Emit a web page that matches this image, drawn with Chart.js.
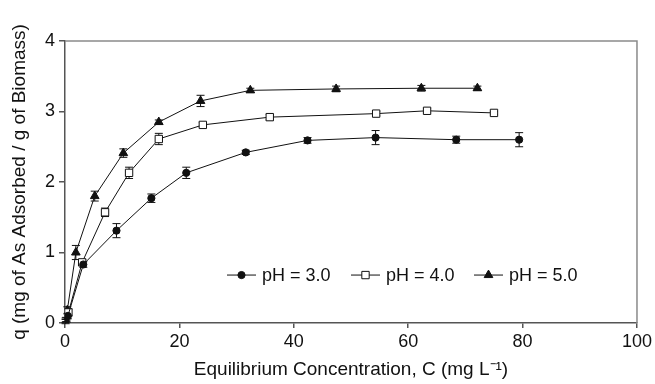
<!DOCTYPE html>
<html>
<head>
<meta charset="utf-8">
<script src="https://cdn.jsdelivr.net/npm/chart.js@4.4.1/dist/chart.umd.min.js"></script>
<style>
    html, body { margin: 0; padding: 0; background: #ffffff; }
    #wrap { width: 655px; height: 384px; position: relative; }
</style>
</head>
<body>
<div id="wrap"><canvas id="myChart"></canvas></div>
<script>
// Data: concentration C (mg/L), uptake q (mg/g), error bar (±)
const ph3C = [0.1, 0.5, 3.2, 9.0, 15.1, 21.2, 31.6, 42.4, 54.3, 68.4, 79.4];
const ph3Q = [0.02, 0.10, 0.83, 1.31, 1.77, 2.13, 2.42, 2.59, 2.63, 2.60, 2.60];
const ph3Err = [0.03, 0.04, 0.04, 0.10, 0.06, 0.08, 0.03, 0.04, 0.10, 0.05, 0.10];

const ph4C = [0.2, 0.6, 3.0, 7.0, 11.2, 16.4, 24.1, 35.8, 54.4, 63.3, 75.0];
const ph4Q = [0.05, 0.15, 0.86, 1.57, 2.13, 2.61, 2.81, 2.92, 2.97, 3.01, 2.98];
const ph4Err = [0.03, 0.05, 0.04, 0.06, 0.08, 0.08, 0.03, 0.04, 0.03, 0.03, 0.02];

const ph5C = [0.1, 0.4, 1.9, 5.2, 10.2, 16.4, 23.7, 32.4, 47.4, 62.3, 72.1];
const ph5Q = [0.04, 0.18, 1.00, 1.80, 2.41, 2.85, 3.15, 3.30, 3.32, 3.33, 3.33];
const ph5Err = [0.03, 0.05, 0.10, 0.07, 0.06, 0.03, 0.08, 0.03, 0.04, 0.04, 0.03];

const seriesLabels = ['pH = 3.0', 'pH = 4.0', 'pH = 5.0'];
const xTicks = [0, 20, 40, 60, 80, 100];
const yTicks = [0, 1, 2, 3, 4];

const FONT = 'Liberation Sans, Arial, sans-serif';
const INK = '#111111';

function toPoints(xs, ys) {
    return xs.map((x, i) => ({ x: x, y: ys[i] }));
}

// marker styles per series
const markers = [
    { style: 'circle', radius: 3.6, fill: INK },
    { style: 'rect', radius: 5.2, fill: '#ffffff' },
    { style: 'triangle', radius: 5, fill: INK }
];

function drawMarker(ctx, m, x, y) {
    ctx.save();
    ctx.fillStyle = m.fill;
    ctx.strokeStyle = INK;
    ctx.lineWidth = 1;
    ctx.beginPath();
    if (m.style === 'circle') {
        ctx.arc(x, y, m.radius, 0, Math.PI * 2);
    } else if (m.style === 'rect') {
        const s = m.radius * Math.SQRT1_2;
        ctx.rect(x - s, y - s, s * 2, s * 2);
    } else {
        const r = m.radius;
        ctx.moveTo(x, y - r);
        ctx.lineTo(x + r * 0.866, y + r * 0.5);
        ctx.lineTo(x - r * 0.866, y + r * 0.5);
        ctx.closePath();
    }
    ctx.fill();
    ctx.stroke();
    ctx.restore();
}

// gray frame on top and right of the plot area
const framePlugin = {
    id: 'frame',
    beforeDatasetsDraw(chart) {
        const a = chart.chartArea;
        const ctx = chart.ctx;
        ctx.save();
        ctx.strokeStyle = '#8a8a8a';
        ctx.lineWidth = 1.5;
        ctx.beginPath();
        ctx.moveTo(a.left, a.top);
        ctx.lineTo(a.right, a.top);
        ctx.lineTo(a.right, a.bottom);
        ctx.stroke();
        ctx.restore();
    }
};

// error bars, drawn through the chart scales
const errorBarPlugin = {
    id: 'errorBars',
    beforeDatasetsDraw(chart) {
        const ctx = chart.ctx;
        const xs = chart.scales.x;
        const ys = chart.scales.y;
        ctx.save();
        ctx.strokeStyle = INK;
        ctx.lineWidth = 1;
        chart.data.datasets.forEach(ds => {
            ds.data.forEach((p, i) => {
                const e = ds.errors[i];
                const px = xs.getPixelForValue(p.x);
                const top = ys.getPixelForValue(p.y + e);
                const bot = ys.getPixelForValue(p.y - e);
                ctx.beginPath();
                ctx.moveTo(px, top);
                ctx.lineTo(px, bot);
                ctx.moveTo(px - 4, top);
                ctx.lineTo(px + 4, top);
                ctx.moveTo(px - 4, bot);
                ctx.lineTo(px + 4, bot);
                ctx.stroke();
            });
        });
        ctx.restore();
    }
};

// legend inside the plot, line + marker + text
const legendPlugin = {
    id: 'insideLegend',
    afterDraw(chart) {
        const ctx = chart.ctx;
        const a = chart.chartArea;
        const y = a.top + (a.bottom - a.top) * 0.83;
        const starts = [227, 351, 474];
        ctx.save();
        ctx.font = '18px ' + FONT;
        ctx.textBaseline = 'middle';
        ctx.fillStyle = INK;
        seriesLabels.forEach((label, i) => {
            const x0 = starts[i];
            ctx.strokeStyle = INK;
            ctx.lineWidth = 1;
            ctx.beginPath();
            ctx.moveTo(x0, y);
            ctx.lineTo(x0 + 29, y);
            ctx.stroke();
            drawMarker(ctx, markers[i], x0 + 14.5, y);
            ctx.fillStyle = INK;
            ctx.fillText(label, x0 + 35, y + 1);
        });
        ctx.restore();
    }
};

function makeDataset(i, xs, ys, errs) {
    const m = markers[i];
    return {
        label: seriesLabels[i],
        data: toPoints(xs, ys),
        errors: errs,
        showLine: true,
        borderColor: INK,
        borderWidth: 1,
        pointStyle: m.style,
        pointRadius: m.radius,
        pointBackgroundColor: m.fill,
        pointBorderColor: INK,
        pointBorderWidth: 1
    };
}

const ctx = document.getElementById('myChart').getContext('2d');
new Chart(ctx, {
    type: 'scatter',
    data: {
        datasets: [
            makeDataset(0, ph3C, ph3Q, ph3Err),
            makeDataset(1, ph4C, ph4Q, ph4Err),
            makeDataset(2, ph5C, ph5Q, ph5Err)
        ]
    },
    options: {
        responsive: true,
        maintainAspectRatio: false,
        animation: false,
        layout: { padding: { top: 41, right: 17, left: 0, bottom: 0 } },
        plugins: {
            legend: { display: false },
            tooltip: { enabled: false }
        },
        scales: {
            x: {
                type: 'linear',
                min: 0,
                max: 100,
                afterBuildTicks: scale => { scale.ticks = xTicks.map(v => ({ value: v })); },
                afterFit: scale => { scale.height = 61; },
                border: { display: true, color: '#555555', width: 1.5 },
                grid: { drawOnChartArea: false, tickLength: 5, color: '#555555', lineWidth: 1.5 },
                ticks: { color: INK, padding: 3, font: { family: FONT, size: 18 } },
                title: {
                    display: true,
                    text: 'Equilibrium Concentration, C (mg L\u207B\u00B9)',
                    color: INK,
                    padding: { top: 0, bottom: 3 },
                    font: { family: FONT, size: 19 }
                }
            },
            y: {
                type: 'linear',
                min: 0,
                max: 4,
                afterBuildTicks: scale => { scale.ticks = yTicks.map(v => ({ value: v })); },
                afterFit: scale => { scale.width = 65; },
                border: { display: true, color: '#555555', width: 1.5 },
                grid: { drawOnChartArea: false, tickLength: 6, color: '#555555', lineWidth: 1.5 },
                ticks: { color: INK, padding: 4, font: { family: FONT, size: 18 } },
                title: {
                    display: true,
                    text: 'q (mg of As Adsorbed / g of Biomass)',
                    color: INK,
                    padding: { top: 8, bottom: 0 },
                    font: { family: FONT, size: 19 }
                }
            }
        }
    },
    plugins: [framePlugin, errorBarPlugin, legendPlugin]
});
</script>
</body>
</html>
